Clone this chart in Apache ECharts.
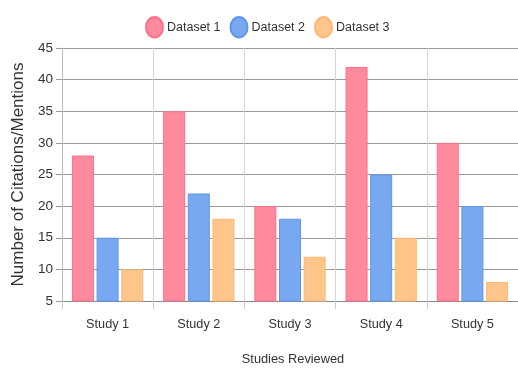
<!DOCTYPE html>
<html>
<head>
<meta charset="utf-8">
<script src="https://cdn.jsdelivr.net/npm/echarts@6/dist/echarts.min.js"></script>
<style>
html,body{margin:0;padding:0;background:#fff;}
#chart{width:518px;height:371px;}
</style>
</head>
<body>
<div id="chart"></div>
<script>
const categories = ['Study 1', 'Study 2', 'Study 3', 'Study 4', 'Study 5'];
const dataset1 = [28, 35, 20, 42, 30];
const dataset2 = [15, 22, 18, 25, 20];
const dataset3 = [10, 18, 12, 15, 8];
const seriesNames = ['Dataset 1', 'Dataset 2', 'Dataset 3'];

const fills = ['#FF8A9D', '#78A8EF', '#FFC58A'];
const borders = ['#FF7088', '#5F96EA', '#FFB877'];
const ellipse = 'path://M50,0 A50,60 0 1,1 50,120 A50,60 0 1,1 50,0 Z';
const regular = '"Liberation Sans", Arial, sans-serif';

const chart = echarts.init(document.getElementById('chart'), null, {renderer: 'canvas'});
const values = [dataset1, dataset2, dataset3];
chart.setOption({
  animation: false,
  backgroundColor: '#fff',
  legend: {
    top: 11,
    left: 140,
    icon: ellipse,
    itemWidth: 17,
    itemHeight: 21,
    itemGap: 9,
    textStyle: {fontFamily: regular, fontSize: 12.5, color: '#333', padding: [0, 0, 0, -1]},
    data: seriesNames
  },
  grid: {left: 62, right: -6.5, top: 48, bottom: 67, containLabel: false},
  xAxis: {
    type: 'category',
    data: categories,
    boundaryGap: true,
    name: 'Studies Reviewed',
    nameLocation: 'middle',
    nameGap: 52,
    nameTextStyle: {fontFamily: regular, fontSize: 12.8, color: '#333', verticalAlign: 'top', padding: [0, 0, 0, 6]},
    axisLine: {show: true, lineStyle: {color: '#888', width: 1}},
    axisTick: {show: true, length: 8, alignWithLabel: false, lineStyle: {color: '#ccc', width: 1}},
    axisLabel: {fontFamily: regular, fontSize: 12.7, color: '#333', margin: 17},
    splitLine: {show: true, lineStyle: {color: '#d6d6d6', width: 1}}
  },
  yAxis: {
    type: 'value',
    min: 5,
    max: 45,
    interval: 5,
    name: 'Number of Citations/Mentions',
    nameLocation: 'middle',
    nameGap: 34,
    nameTextStyle: {fontFamily: regular, fontSize: 17, color: '#333'},
    axisLine: {show: true, lineStyle: {color: '#bbb', width: 1}},
    axisTick: {show: true, length: 6, lineStyle: {color: '#999', width: 1}},
    axisLabel: {fontFamily: regular, fontSize: 13.5, color: '#333', margin: 9},
    splitLine: {show: true, lineStyle: {color: '#9a9a9a', width: 1}}
  },
  series: seriesNames.map((name, i) => ({
    name: name,
    type: 'bar',
    data: values[i],
    barWidth: 22,
    barGap: '12%',
    itemStyle: {color: fills[i], borderColor: borders[i], borderWidth: 1}
  }))
});
</script>
</body>
</html>
